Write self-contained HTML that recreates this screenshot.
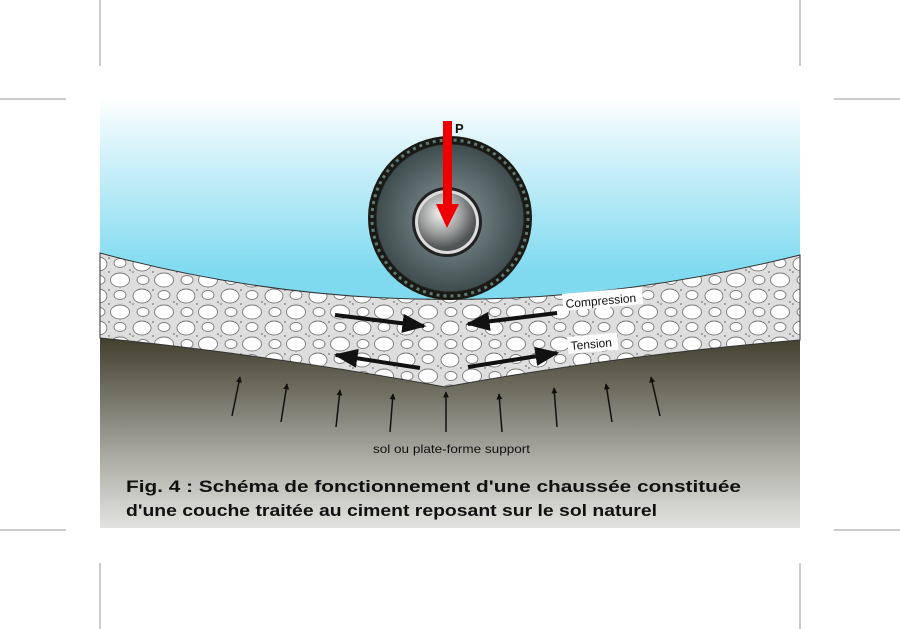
<!DOCTYPE html>
<html><head><meta charset="utf-8"><style>
html,body{margin:0;padding:0;background:#fff;width:900px;height:629px;overflow:hidden}
svg{display:block}
</style></head><body>
<svg width="900" height="629" viewBox="0 0 900 629" xmlns="http://www.w3.org/2000/svg">
<defs>
<linearGradient id="sky" x1="0" y1="0" x2="0" y2="1">
<stop offset="0" stop-color="#ffffff"/><stop offset="0.2" stop-color="#d8f3fa"/><stop offset="0.7" stop-color="#7fdaf0"/><stop offset="1" stop-color="#7fdaf0"/>
</linearGradient>
<linearGradient id="soil" x1="0" y1="0" x2="0" y2="1">
<stop offset="0" stop-color="#3a3826"/><stop offset="0.35" stop-color="#77766a"/><stop offset="0.7" stop-color="#b5b5ae"/><stop offset="1" stop-color="#e2e2e0"/>
</linearGradient>
<radialGradient id="tyre" cx="0.5" cy="0.5" r="0.5">
<stop offset="0" stop-color="#8a9a9c"/><stop offset="1" stop-color="#3e4c4e"/>
</radialGradient>
<radialGradient id="hub" cx="0.4" cy="0.35" r="0.6">
<stop offset="0" stop-color="#f4f4f4"/><stop offset="0.6" stop-color="#9a9c9c"/><stop offset="1" stop-color="#505454"/>
</radialGradient>
<pattern id="stones" x="0" y="0" width="44" height="32" patternUnits="userSpaceOnUse">
<rect width="44" height="32" fill="#dedede"/>
<ellipse cx="10" cy="8" rx="9" ry="7" fill="#fff" stroke="#777" stroke-width="0.9"/>
<ellipse cx="32" cy="24" rx="9.5" ry="7" fill="#fff" stroke="#777" stroke-width="0.9"/>
<ellipse cx="32" cy="7" rx="6" ry="4.5" fill="#fff" stroke="#777" stroke-width="0.9"/>
<ellipse cx="11" cy="24" rx="6" ry="4.5" fill="#fff" stroke="#777" stroke-width="0.9"/>
<circle cx="21" cy="16" r="0.9" fill="#777"/><circle cx="42" cy="14" r="0.9" fill="#777"/><circle cx="21" cy="2" r="0.9" fill="#777"/><circle cx="1" cy="16" r="0.9" fill="#777"/>
</pattern>
<marker id="ah" viewBox="0 0 10 10" refX="9" refY="5" markerWidth="4" markerHeight="4" orient="auto"><path d="M0,0L10,5L0,10z" fill="#111"/></marker>
<marker id="ah2" viewBox="0 0 10 10" refX="9" refY="5" markerWidth="6" markerHeight="6" orient="auto"><path d="M0,1L10,5L0,9z" fill="#111"/></marker>
</defs>
<g stroke="#999" stroke-width="1">
<line x1="100" y1="0" x2="100" y2="66"/><line x1="800" y1="0" x2="800" y2="66"/>
<line x1="100" y1="563" x2="100" y2="629"/><line x1="800" y1="563" x2="800" y2="629"/>
<line x1="0" y1="99" x2="66" y2="99"/><line x1="834" y1="99" x2="900" y2="99"/>
<line x1="0" y1="530" x2="66" y2="530"/><line x1="834" y1="530" x2="900" y2="530"/>
</g>
<rect x="100" y="97" width="700" height="250" fill="url(#sky)"/>
<rect x="100" y="330" width="700" height="198" fill="url(#soil)"/>
<path d="M100,253 Q440,345 800,255 L800,340 Q620,355 445,387 Q270,355 100,338 Z" fill="url(#stones)" stroke="#333" stroke-width="1"/>
<circle cx="450" cy="218" r="82" fill="#1a1a14"/>
<circle cx="450" cy="218" r="78" fill="none" stroke="#5f7a74" stroke-width="3" stroke-dasharray="3 4"/>
<circle cx="450" cy="218" r="74" fill="url(#tyre)" stroke="#222" stroke-width="1"/>
<circle cx="447" cy="222" r="35" fill="#222"/>
<circle cx="447" cy="222" r="32" fill="#ddd"/>
<circle cx="447" cy="222" r="29" fill="url(#hub)"/>
<rect x="443" y="121" width="9" height="85" fill="#e00"/>
<path d="M436,204 L459,204 L447,228 Z" fill="#e00"/>
<text x="455" y="133" font-family="Liberation Sans, sans-serif" font-weight="bold" font-size="13" fill="#111">P</text>
<g stroke="#111" stroke-width="4" fill="none" marker-end="url(#ah2)">
<line x1="335" y1="315" x2="424" y2="326"/>
<line x1="557" y1="313" x2="468" y2="324"/>
<line x1="420" y1="368" x2="336" y2="355"/>
<line x1="468" y1="367" x2="557" y2="353"/>
</g>
<g font-family="Liberation Sans, sans-serif" font-size="12" fill="#111">
<rect x="563" y="294" width="80" height="17" fill="#fff" transform="rotate(-5 563 305)"/>
<text x="566" y="308" transform="rotate(-5 566 308)">Compression</text>
<rect x="568" y="337" width="50" height="17" fill="#fff" transform="rotate(-5 568 348)"/>
<text x="571" y="350" transform="rotate(-5 571 350)">Tension</text>
</g>
<g stroke="#111" stroke-width="1.5" marker-end="url(#ah)">
<line x1="232" y1="416" x2="240" y2="377"/>
<line x1="281" y1="422" x2="287" y2="384"/>
<line x1="336" y1="427" x2="340" y2="390"/>
<line x1="390" y1="432" x2="393" y2="394"/>
<line x1="446" y1="432" x2="446" y2="392"/>
<line x1="502" y1="432" x2="499" y2="394"/>
<line x1="557" y1="427" x2="554" y2="388"/>
<line x1="612" y1="422" x2="606" y2="384"/>
<line x1="660" y1="416" x2="651" y2="377"/>
</g>
<text x="373" y="453" font-family="Liberation Sans, sans-serif" font-size="12" fill="#111" textLength="157" lengthAdjust="spacingAndGlyphs">sol ou plate-forme support</text>
<g font-family="Liberation Sans, sans-serif" font-weight="bold" font-size="17" fill="#111">
<text x="126" y="492" textLength="615" lengthAdjust="spacingAndGlyphs">Fig. 4 : Schéma de fonctionnement d'une chaussée constituée</text>
<text x="126" y="516" textLength="531" lengthAdjust="spacingAndGlyphs">d'une couche traitée au ciment reposant sur le sol naturel</text>
</g>
</svg>
</body></html>
